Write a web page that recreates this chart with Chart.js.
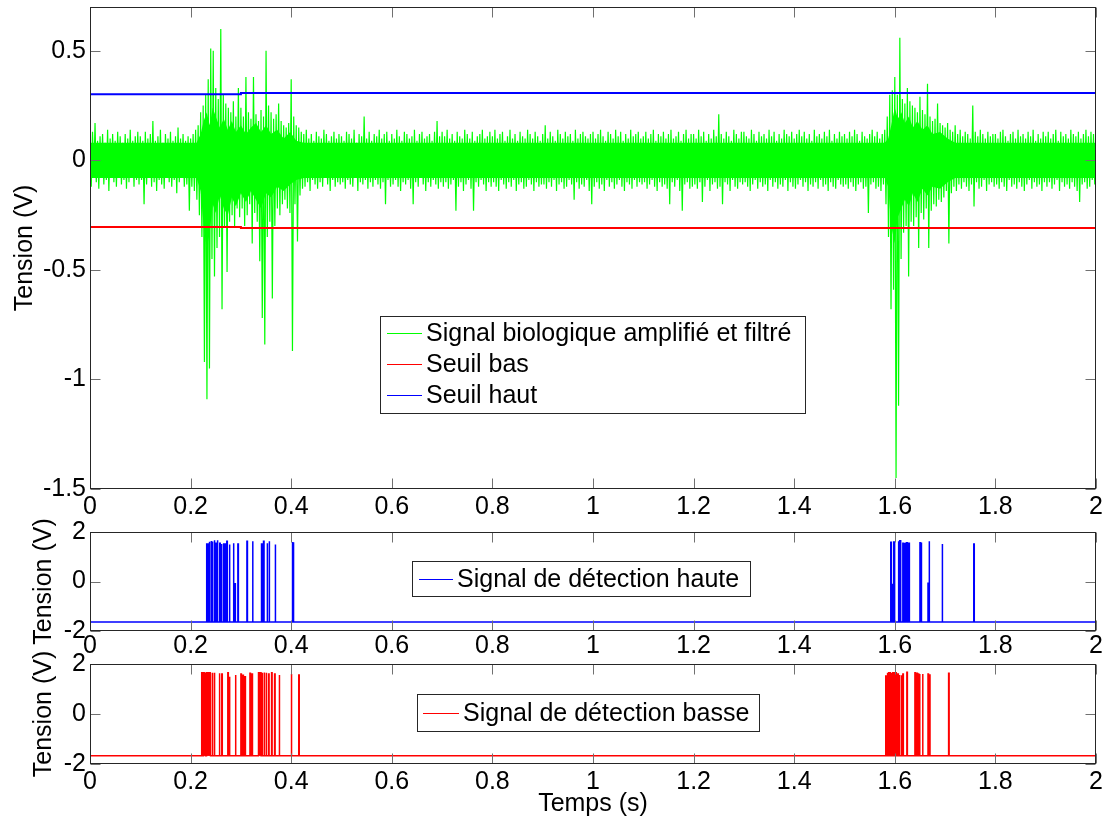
<!DOCTYPE html>
<html><head><meta charset="utf-8">
<script src="https://cdn.jsdelivr.net/npm/chart.js@4.4.0/dist/chart.umd.min.js"></script>
<style>
html,body{margin:0;padding:0;background:#fff;}
#wrap{position:relative;width:1110px;height:825px;overflow:hidden;background:#fff;}
canvas{position:absolute;left:0;top:0;}
</style></head><body>
<div id="wrap">
<canvas id="c1" width="1110" height="825"></canvas>
<canvas id="c2" width="1110" height="825"></canvas>
<canvas id="c3" width="1110" height="825"></canvas>
</div>
<script>
// ---------- tick labels ----------
const xTicks = [0,0.2,0.4,0.6,0.8,1,1.2,1.4,1.6,1.8,2];
const xTickLabels = ['0','0.2','0.4','0.6','0.8','1','1.2','1.4','1.6','1.8','2'];
const yTicksTop = [-1.5,-1,-0.5,0,0.5];
const yTickLabelsTop = ['-1.5','-1','-0.5','0','0.5'];
const yTicksDet = [-2,0,2];
const yTickLabelsDet = ['-2','0','2'];

// ---------- green signal: per 5 ms bin, max then min (V) ----------
const greenBinStart = 0, greenBinWidth = 0.005;
const greenHigh = [
 .10,.13,.17,.09,.11,.12,.08,.14,.10,.12,.09,.13,.11,.08,.12,.10,.14,.09,.11,.13,
 .11,.09,.13,.10,.12,.18,.09,.11,.14,.08,.12,.10,.13,.09,.11,.15,.10,.12,.09,.11,
 .10,.12,.14,.16,.22,.25,.30,.37,.51,.50,.33,.28,.60,.30,.26,.24,.22,.27,.20,.33,
 .24,.20,.38,.22,.19,.38,.21,.18,.23,.20,.50,.25,.22,.19,.21,.26,.18,.16,.15,.17,
 .37,.20,.16,.15,.13,.12,.14,.10,.12,.09,.13,.11,.10,.14,.12,.09,.11,.13,.10,.12,
 .11,.09,.13,.12,.10,.14,.08,.12,.11,.20,.10,.13,.09,.12,.11,.14,.10,.12,.13,.09,
 .12,.10,.14,.11,.09,.13,.12,.10,.11,.14,.09,.12,.13,.10,.11,.12,.09,.13,.18,.11,
 .13,.11,.14,.10,.12,.09,.13,.11,.10,.14,.12,.10,.13,.09,.11,.12,.14,.10,.11,.13,
 .11,.14,.10,.12,.13,.09,.11,.14,.10,.12,.09,.13,.11,.10,.14,.12,.10,.13,.11,.09,
 .12,.16,.10,.13,.11,.09,.14,.12,.10,.13,.11,.12,.09,.14,.10,.12,.13,.11,.10,.12,
 .13,.10,.12,.14,.11,.09,.13,.12,.10,.14,.11,.13,.09,.12,.10,.14,.11,.12,.13,.10,
 .11,.13,.10,.12,.14,.09,.12,.11,.13,.10,.12,.14,.10,.11,.13,.09,.12,.14,.10,.12,
 .12,.10,.14,.11,.13,.09,.12,.10,.14,.11,.21,.12,.10,.13,.11,.09,.14,.12,.10,.13,
 .13,.11,.10,.14,.12,.09,.13,.11,.12,.10,.14,.11,.13,.09,.12,.10,.14,.12,.11,.13,
 .10,.12,.14,.11,.13,.10,.12,.09,.14,.11,.12,.10,.13,.11,.14,.09,.12,.10,.13,.11,
 .12,.10,.13,.11,.14,.12,.09,.13,.11,.10,.12,.14,.11,.13,.10,.12,.14,.20,.30,.32,
 .38,.30,.56,.28,.26,.33,.27,.25,.24,.22,.29,.23,.21,.35,.20,.18,.19,.26,.17,.16,
 .15,.17,.14,.13,.16,.12,.14,.11,.13,.12,.10,.25,.13,.11,.14,.12,.10,.13,.11,.12,
 .12,.10,.13,.14,.11,.09,.12,.13,.10,.14,.11,.12,.10,.13,.11,.14,.09,.12,.10,.13,
 .11,.13,.10,.12,.14,.09,.13,.11,.12,.10,.14,.12,.11,.13,.10,.12,.14,.11,.13,.12
];
const greenLow = [
 -.12,-.08,-.10,-.13,-.07,-.11,-.09,-.14,-.08,-.10,-.12,-.07,-.11,-.09,-.13,-.10,-.08,-.12,-.09,-.11,
 -.09,-.20,-.11,-.08,-.12,-.10,-.14,-.09,-.11,-.13,-.08,-.10,-.12,-.09,-.15,-.10,-.08,-.12,-.11,-.23,
 -.12,-.14,-.18,-.25,-.35,-.92,-1.09,-.95,-.45,-.53,-.40,-.35,-.68,-.30,-.51,-.28,-.25,-.30,-.22,-.26,
 -.22,-.30,-.25,-.20,-.38,-.24,-.28,-.46,-.72,-.84,-.35,-.28,-.63,-.30,-.22,-.25,-.20,-.18,-.22,-.24,
 -.87,-.20,-.37,-.16,-.13,-.12,-.10,-.14,-.09,-.11,-.13,-.10,-.12,-.08,-.11,-.14,-.09,-.12,-.10,-.11,
 -.10,-.13,-.09,-.11,-.12,-.08,-.14,-.10,-.11,-.09,-.13,-.10,-.12,-.09,-.11,-.13,-.10,-.20,-.09,-.12,
 -.11,-.09,-.12,-.14,-.10,-.11,-.09,-.13,-.20,-.10,-.12,-.08,-.11,-.14,-.10,-.12,-.09,-.11,-.13,-.10,
 -.12,-.10,-.13,-.11,-.09,-.23,-.12,-.10,-.14,-.11,-.09,-.13,-.23,-.10,-.12,-.09,-.11,-.14,-.10,-.12,
 -.10,-.12,-.14,-.09,-.11,-.13,-.10,-.12,-.09,-.14,-.11,-.10,-.13,-.12,-.09,-.11,-.14,-.10,-.12,-.11,
 -.11,-.13,-.10,-.12,-.09,-.14,-.11,-.10,-.13,-.12,-.09,-.11,-.18,-.10,-.13,-.11,-.12,-.09,-.14,-.20,
 -.12,-.10,-.13,-.11,-.14,-.09,-.12,-.10,-.13,-.11,-.09,-.12,-.14,-.10,-.11,-.13,-.09,-.12,-.10,-.11,
 -.10,-.13,-.11,-.09,-.12,-.14,-.10,-.12,-.11,-.13,-.20,-.10,-.12,-.09,-.14,-.23,-.11,-.10,-.13,-.12,
 -.11,-.13,-.10,-.19,-.12,-.09,-.14,-.11,-.10,-.13,-.12,-.20,-.10,-.11,-.14,-.09,-.12,-.13,-.10,-.11,
 -.10,-.12,-.14,-.11,-.09,-.13,-.10,-.12,-.11,-.14,-.09,-.12,-.10,-.13,-.11,-.12,-.09,-.14,-.10,-.12,
 -.13,-.11,-.09,-.12,-.10,-.14,-.11,-.12,-.10,-.13,-.09,-.12,-.11,-.14,-.10,-.12,-.13,-.09,-.11,-.12,
 -.11,-.13,-.10,-.12,-.14,-.11,-.10,-.13,-.12,-.24,-.11,-.10,-.13,-.12,-.14,-.11,-.20,-.35,-.68,-.59,
 -1.45,-1.12,-.45,-.33,-.30,-.53,-.28,-.30,-.26,-.40,-.24,-.27,-.22,-.40,-.23,-.20,-.21,-.18,-.19,-.17,
 -.14,-.38,-.15,-.12,-.14,-.11,-.13,-.10,-.12,-.14,-.11,-.21,-.10,-.13,-.12,-.09,-.14,-.11,-.10,-.12,
 -.11,-.13,-.10,-.12,-.14,-.09,-.12,-.11,-.13,-.10,-.12,-.14,-.11,-.09,-.13,-.10,-.12,-.11,-.14,-.10,
 -.12,-.10,-.13,-.11,-.09,-.14,-.10,-.12,-.11,-.13,-.10,-.12,-.14,-.19,-.11,-.10,-.13,-.12,-.09,-.11
];
// dense (visually solid) core of the green trace, read at a few times
const coreT = [0, 0.212, 0.220, 0.226, 0.232, 0.238, 0.244, 0.250, 0.258, 0.266, 0.274, 0.282, 0.290,
  0.300, 0.310, 0.320, 0.330, 0.340, 0.350, 0.360, 0.372, 0.385, 0.398, 0.410, 0.425,
  1.580, 1.587, 1.593, 1.600, 1.606, 1.613, 1.620, 1.628, 1.636, 1.645, 1.655, 1.665, 1.675, 1.690, 1.705, 1.720, 2];
const coreHigh = [.08, .08, .12, .18, .22, .16, .24, .20, .15, .19, .14, .18, .13,
  .16, .12, .15, .17, .13, .16, .12, .14, .10, .13, .09, .08,
  .08, .10, .16, .24, .19, .22, .17, .20, .15, .18, .14, .16, .12, .13, .10, .08, .08];
const coreLow = [-.08, -.08, -.14, -.30, -.40, -.33, -.20, -.24, -.16, -.22, -.25, -.17, -.21,
  -.15, -.19, -.14, -.18, -.22, -.15, -.17, -.12, -.14, -.11, -.09, -.08,
  -.08, -.12, -.30, -.38, -.26, -.22, -.18, -.21, -.15, -.19, -.13, -.16, -.12, -.13, -.10, -.08, -.08];

// ---------- thresholds (V) ----------
const seuilT = [0, 0.30, 2];
const seuilHaut = [0.302, 0.307, 0.305];
const seuilBas = [-0.304, -0.309, -0.306];

// ---------- detection signals: pulse start times (s) and levels (V) ----------
const pulseDuration = 0.001;
const hauteBase = -1.64;
const hauteT = [0.232,0.2346,0.237,0.2406,0.243,0.247,0.250,0.253,0.258,0.261,0.265,0.268,0.272,0.277,0.285,0.288,0.294,0.312,0.323,0.341,0.345,0.352,0.356,0.368,0.402,0.404,
  1.592,1.595,1.597,1.599,1.607,1.609,1.611,1.616,1.619,1.622,1.624,1.628,1.650,1.652,1.666,1.668,1.694,1.757];
const hauteV = [1.52,1.55,1.61,1.64,1.62,1.67,1.55,1.67,1.55,1.52,1.55,1.52,1.63,1.49,1.55,-0.09,1.52,1.63,1.63,1.52,1.63,1.55,1.63,1.49,1.60,1.59,
  1.59,-0.09,1.63,1.63,1.63,1.68,1.68,1.55,1.57,1.55,1.57,1.55,1.57,1.55,-0.07,1.63,1.52,1.52];
const basseBase = -1.67;
const basseT = [0.2212,0.2224,0.2236,0.2248,0.2260,0.2272,0.2284,0.2296,0.2308,0.2320,0.2332,0.2344,0.2356,0.2368,0.2380,0.2392,
  0.243,0.247,0.257,0.262,0.274,0.277,0.289,0.300,0.304,0.308,0.318,0.322,0.335,0.337,0.339,0.342,0.346,0.350,0.355,0.361,0.367,0.376,0.400,0.415,
  1.582,1.585,1.588,1.590,1.593,1.596,1.600,1.602,1.606,1.609,1.613,1.616,1.624,1.640,1.644,1.647,1.649,1.655,1.666,1.669,1.707];
const basseV = [1.63,1.65,1.65,1.64,1.65,1.65,1.63,1.65,1.65,1.65,1.64,1.65,1.63,1.65,1.65,1.64,
  1.65,1.65,1.63,1.60,1.65,1.49,1.56,1.60,1.55,1.49,1.63,1.60,1.65,1.65,1.65,1.65,1.66,1.65,1.60,1.65,1.60,1.56,1.60,1.56,
  1.52,1.65,1.65,1.65,1.65,1.65,1.65,1.65,1.60,1.56,1.55,1.60,1.67,1.65,1.63,1.63,1.60,1.60,1.60,1.56,1.63];

// ---------- build point lists from the arrays ----------
const greenPts = [];
greenHigh.forEach((v, i) => {
  const t = greenBinStart + i * greenBinWidth;
  greenPts.push({x: t, y: v}, {x: t + greenBinWidth / 2, y: greenLow[i]});
});
const coreHighPts = coreT.map((t, i) => ({x: t, y: coreHigh[i]}));
const coreLowPts = coreT.map((t, i) => ({x: t, y: coreLow[i]}));
const hautPts = seuilT.map((t, i) => ({x: t, y: seuilHaut[i]}));
const basPts = seuilT.map((t, i) => ({x: t, y: seuilBas[i]}));
function pulseTrain(times, levels, base) {
  const pts = [{x: 0, y: base}];
  times.forEach((t, i) => {
    pts.push({x: t, y: base}, {x: t, y: levels[i]}, {x: t + pulseDuration, y: levels[i]}, {x: t + pulseDuration, y: base});
  });
  pts.push({x: 2, y: base});
  return pts;
}
const hautePts = pulseTrain(hauteT, hauteV, hauteBase);
const bassePts = pulseTrain(basseT, basseV, basseBase);

// ---------- styling helpers ----------
const FONT = "'Liberation Sans', Arial, sans-serif";
const FS = 25;
Chart.defaults.font.family = FONT;

const axesBox = {
  id: 'axesBox',
  afterDatasetsDraw(chart) {
    const {ctx, chartArea: a, scales: {x, y}} = chart;
    const L = a.left + 0.5, R = a.right - 0.5, T = a.top + 0.5, B = a.bottom - 0.5;
    const tl = 10;
    ctx.save();
    ctx.lineWidth = 1;
    ctx.strokeStyle = '#707070';
    ctx.beginPath();
    x.ticks.forEach(tk => {
      const px = Math.round(x.getPixelForValue(tk.value)) + 0.5;
      ctx.moveTo(px, B); ctx.lineTo(px, B - tl);
      ctx.moveTo(px, T); ctx.lineTo(px, T + tl);
    });
    y.ticks.forEach(tk => {
      const py = Math.round(y.getPixelForValue(tk.value)) + 0.5;
      ctx.moveTo(L, py); ctx.lineTo(L + tl, py);
      ctx.moveTo(R, py); ctx.lineTo(R - tl, py);
    });
    ctx.stroke();
    ctx.strokeStyle = '#262626';
    ctx.strokeRect(L, T, R - L, B - T);
    ctx.restore();
  }
};

const legendBox = {
  id: 'legendBox',
  afterDraw(chart, args, o) {
    const ctx = chart.ctx;
    ctx.save();
    ctx.fillStyle = '#fff';
    ctx.fillRect(o.left, o.top, o.right - o.left, o.bottom - o.top);
    ctx.strokeStyle = '#262626';
    ctx.lineWidth = 1;
    ctx.strokeRect(o.left + 0.5, o.top + 0.5, o.right - o.left, o.bottom - o.top);
    ctx.font = FS + 'px ' + FONT;
    ctx.textBaseline = 'middle';
    ctx.textAlign = 'left';
    chart.data.datasets.filter(d => d.label).forEach((d, i) => {
      const cy = Math.round(o.firstRow + i * o.rowGap) + 0.5;
      ctx.strokeStyle = d.borderColor;
      ctx.lineWidth = 1.2;
      ctx.beginPath(); ctx.moveTo(o.sx0, cy); ctx.lineTo(o.sx1, cy); ctx.stroke();
      ctx.fillStyle = '#000';
      ctx.fillText(d.label, o.textX, cy + 1);
    });
    ctx.restore();
  }
};

function xScale(c) {
  return {
    type: 'linear', min: 0, max: 2, position: 'bottom',
    grid: {display: false, drawTicks: false}, border: {display: false},
    afterBuildTicks: s => { s.ticks = xTicks.map(v => ({value: v})); },
    ticks: {autoSkip: false, maxRotation: 0, minRotation: 0, padding: c.tickPad, color: '#000',
      font: {family: FONT, size: FS}, callback: (v, i) => xTickLabels[i]},
    title: {display: !!c.title, text: c.title || '', color: '#000', font: {family: FONT, size: FS},
      padding: {top: 0, bottom: c.titlePad || 0}},
    afterFit: s => { s.height = c.h; s.paddingLeft = 0; s.paddingRight = 0; }
  };
}
function yScale(c) {
  return {
    type: 'linear', min: c.min, max: c.max, position: 'left',
    grid: {display: false, drawTicks: false}, border: {display: false},
    afterBuildTicks: s => { s.ticks = c.ticks.map(v => ({value: v})); },
    ticks: {autoSkip: false, padding: 4, color: '#000', font: {family: FONT, size: FS},
      callback: (v, i) => c.labels[i]},
    title: {display: true, text: 'Tension (V)', color: '#000', font: {family: FONT, size: FS},
      padding: {top: c.titlePad, bottom: 0}},
    afterFit: s => { s.width = 90; s.paddingTop = 0; s.paddingBottom = 0; }
  };
}
function baseOptions(pad, xs, ys, leg) {
  return {
    responsive: false, animation: false, devicePixelRatio: 1,
    layout: {padding: pad},
    elements: {point: {radius: 0}, line: {tension: 0}},
    scales: {x: xs, y: ys},
    plugins: {legend: {display: false}, tooltip: {enabled: false}, legendBox: leg}
  };
}

// ---------- top: biological signal ----------
new Chart(document.getElementById('c1'), {
  type: 'line',
  data: {datasets: [
    {label: 'Signal biologique amplifié et filtré', data: greenPts, borderColor: '#00ff00', borderWidth: 1.2, order: 2},
    {label: 'Seuil bas', data: basPts, borderColor: '#ff0000', borderWidth: 2, stepped: true, order: 1},
    {label: 'Seuil haut', data: hautPts, borderColor: '#0000ff', borderWidth: 2, stepped: true, order: 0},
    {data: coreHighPts, borderColor: '#00ff00', borderWidth: 0, backgroundColor: '#00ff00', fill: '+1', order: 3},
    {data: coreLowPts, borderColor: '#00ff00', borderWidth: 0, order: 4}
  ]},
  options: baseOptions({left: 0, right: 14, top: 7, bottom: 301},
    xScale({h: 35, tickPad: 3}),
    yScale({min: -1.5, max: 0.7, ticks: yTicksTop, labels: yTickLabelsTop, titlePad: 10}),
    {left: 380, top: 316, right: 805, bottom: 413, firstRow: 333, rowGap: 31, sx0: 387, sx1: 422, textX: 426}),
  plugins: [axesBox, legendBox]
});

// ---------- middle: high detection ----------
new Chart(document.getElementById('c2'), {
  type: 'line',
  data: {datasets: [
    {label: 'Signal de détection haute', data: hautePts, borderColor: '#0000ff', backgroundColor: '#0000ff',
      borderWidth: 1.5, fill: {value: hauteBase}}
  ]},
  options: baseOptions({left: 0, right: 14, top: 532, bottom: 164},
    xScale({h: 30, tickPad: 0}),
    yScale({min: -2, max: 2, ticks: yTicksDet, labels: yTickLabelsDet, titlePad: 29}),
    {left: 412, top: 561, right: 750, bottom: 596, firstRow: 579, rowGap: 0, sx0: 419, sx1: 453, textX: 457}),
  plugins: [axesBox, legendBox]
});

// ---------- bottom: low detection ----------
new Chart(document.getElementById('c3'), {
  type: 'line',
  data: {datasets: [
    {label: 'Signal de détection basse', data: bassePts, borderColor: '#ff0000', backgroundColor: '#ff0000',
      borderWidth: 1.5, fill: {value: basseBase}}
  ]},
  options: baseOptions({left: 0, right: 14, top: 664, bottom: 1},
    xScale({h: 60, tickPad: 3, title: 'Temps (s)', titlePad: 5}),
    yScale({min: -2, max: 2, ticks: yTicksDet, labels: yTickLabelsDet, titlePad: 29}),
    {left: 417, top: 694, right: 759, bottom: 731, firstRow: 713, rowGap: 0, sx0: 423, sx1: 459, textX: 463}),
  plugins: [axesBox, legendBox]
});
</script>
</body></html>
